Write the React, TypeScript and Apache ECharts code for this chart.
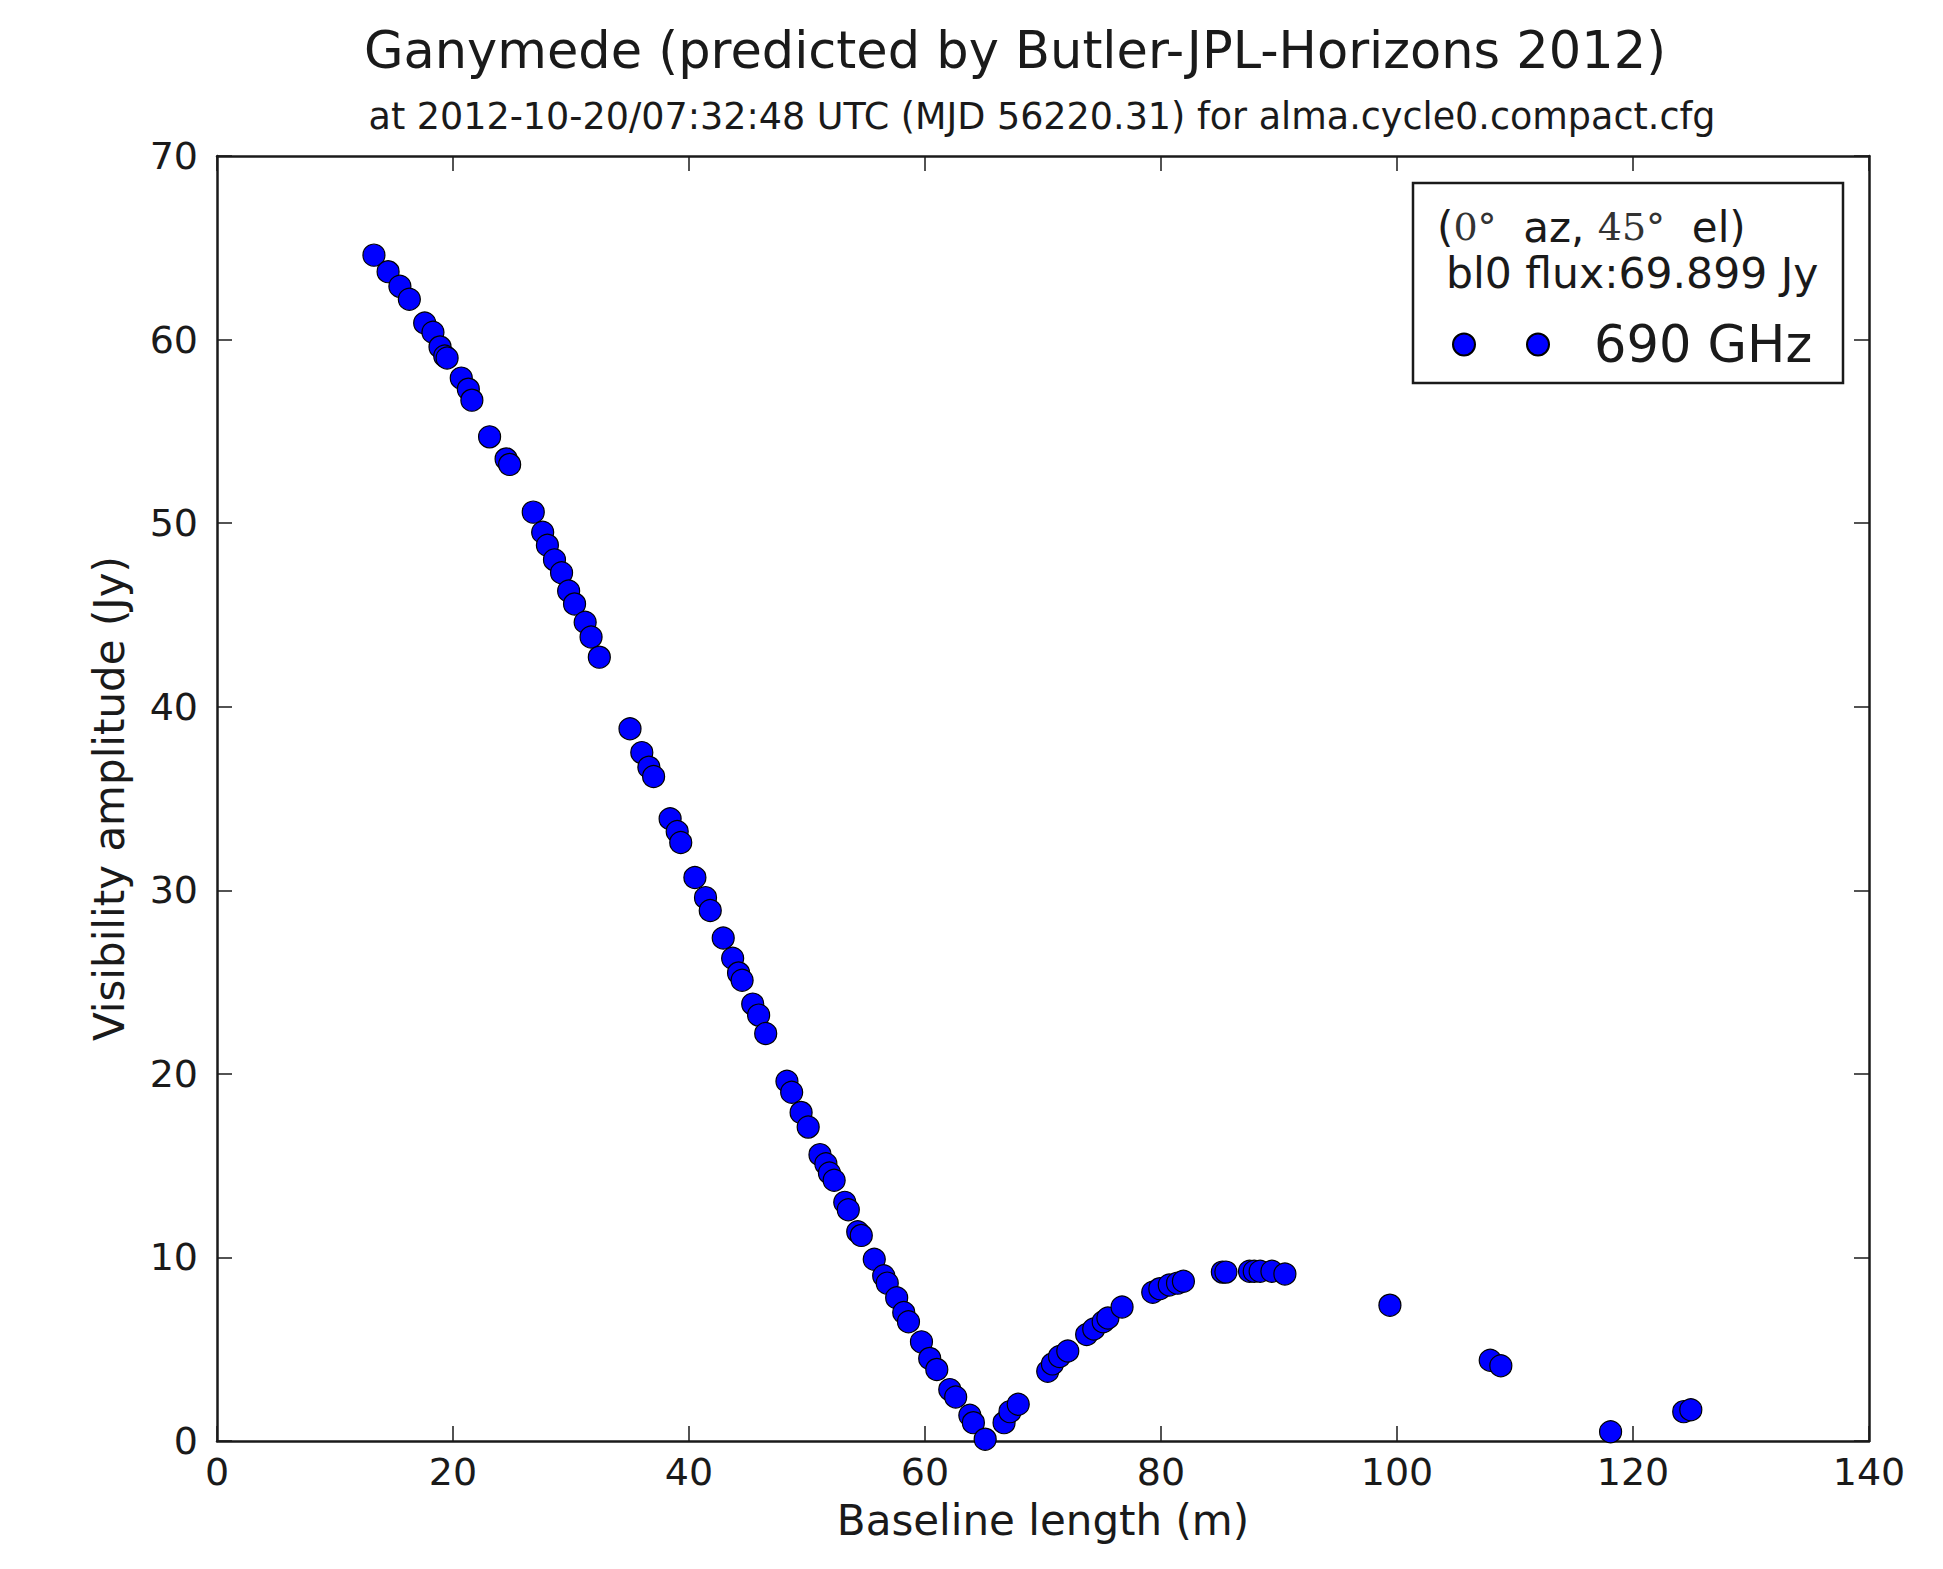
import React, { useEffect, useRef } from "react";
import * as echarts from "echarts";

const titleText = "Ganymede (predicted by Butler-JPL-Horizons 2012)";
const subtitleText = "at 2012-10-20/07:32:48 UTC (MJD 56220.31) for alma.cycle0.compact.cfg";
const xAxisName = "Baseline length (m)";
const yAxisName = "Visibility amplitude (Jy)";
const seriesName = "690 GHz";
const legendLine2 = "bl0 flux:69.899 Jy";

const baselineM = [
  13.3, 14.5, 15.5, 16.3, 17.6, 18.3, 18.9, 19.3, 19.5, 20.7,
  21.3, 21.6, 23.1, 24.5, 24.8, 26.8, 27.6, 28.0, 28.6, 29.2,
  29.8, 30.3, 31.2, 31.7, 32.4, 35.0, 36.0, 36.6, 37.0, 38.4,
  39.0, 39.3, 40.5, 41.4, 41.8, 42.9, 43.7, 44.2, 44.5, 45.4,
  45.9, 46.5, 48.3, 48.7, 49.5, 50.1, 51.1, 51.6, 51.9, 52.3,
  53.2, 53.5, 54.3, 54.6, 55.7, 56.5, 56.8, 57.6, 58.2, 58.6,
  59.7, 60.4, 61.0, 62.1, 62.6, 63.8, 64.1, 65.1, 66.7, 67.2,
  67.9, 70.4, 70.8, 71.4, 72.1, 73.7, 74.3, 75.1, 75.5, 76.7,
  79.3, 79.9, 80.7, 81.4, 81.9, 85.2, 85.5, 87.5, 87.9, 88.4,
  89.4, 90.5, 99.4, 107.9, 108.8, 118.1, 124.3, 124.9,
];

const amplitudeJy = [
  64.6, 63.7, 62.9, 62.2, 60.9, 60.4, 59.6, 59.1, 59.0, 57.9,
  57.3, 56.7, 54.7, 53.5, 53.2, 50.6, 49.5, 48.8, 48.0, 47.3,
  46.3, 45.6, 44.6, 43.8, 42.7, 38.8, 37.5, 36.7, 36.2, 33.9,
  33.2, 32.6, 30.7, 29.6, 28.9, 27.4, 26.3, 25.5, 25.1, 23.8,
  23.2, 22.2, 19.6, 19.0, 17.9, 17.1, 15.6, 15.1, 14.6, 14.2,
  13.0, 12.6, 11.4, 11.2, 9.9, 9.0, 8.6, 7.8, 7.0, 6.5,
  5.4, 4.5, 3.9, 2.8, 2.4, 1.4, 1.0, 0.1, 1.0, 1.6,
  2.0, 3.8, 4.2, 4.6, 4.9, 5.8, 6.1, 6.5, 6.7, 7.3,
  8.1, 8.3, 8.5, 8.6, 8.7, 9.2, 9.2, 9.25, 9.25, 9.25,
  9.25, 9.1, 7.4, 4.4, 4.1, 0.5, 1.6, 1.7,
];

const xMin = 0, xMax = 140, xStep = 20;
const yMin = 0, yMax = 70, yStep = 10;

const FONT = "DejaVu Sans";

export default function App() {
  const ref = useRef<HTMLDivElement>(null);

  useEffect(() => {
    if (!ref.current) return;
    const chart = echarts.init(ref.current, undefined, { renderer: "svg" });
    const points = baselineM.map((x, i) => [x, amplitudeJy[i]]);

    const frameLine = { show: true, onZero: false, lineStyle: { color: "#1a1a1a", width: 2.5 } };
    const innerTick = { show: true, inside: true, length: 15, lineStyle: { color: "#1a1a1a", width: 1.5 } };

    chart.setOption({
      animation: false,
      backgroundColor: "#fff",
      textStyle: { fontFamily: FONT },
      grid: { left: 217, top: 156, width: 1652, height: 1285, containLabel: false },
      xAxis: [
        {
          type: "value", min: xMin, max: xMax, interval: xStep, position: "bottom",
          axisLine: frameLine, axisTick: innerTick, splitLine: { show: false },
          axisLabel: { color: "#1a1a1a", fontSize: 38, fontFamily: FONT, margin: 12 },
          name: xAxisName, nameLocation: "middle", nameGap: 58,
          nameTextStyle: { color: "#1a1a1a", fontSize: 42, fontFamily: FONT },
        },
        {
          type: "value", min: xMin, max: xMax, interval: xStep, position: "top",
          axisLine: frameLine, axisTick: innerTick, splitLine: { show: false },
          axisLabel: { show: false },
        },
      ],
      yAxis: [
        {
          type: "value", min: yMin, max: yMax, interval: yStep, position: "left",
          axisLine: frameLine, axisTick: innerTick, splitLine: { show: false },
          axisLabel: { color: "#1a1a1a", fontSize: 38, fontFamily: FONT, margin: 19 },
          name: yAxisName, nameLocation: "middle", nameGap: 87, nameRotate: 90,
          nameTextStyle: { color: "#1a1a1a", fontSize: 42, fontFamily: FONT },
        },
        {
          type: "value", min: yMin, max: yMax, interval: yStep, position: "right",
          axisLine: frameLine, axisTick: innerTick, splitLine: { show: false },
          axisLabel: { show: false },
        },
      ],
      legend: {
        show: true,
        left: 1452,
        top: 319,
        padding: 0,
        itemGap: 0,
        data: [seriesName],
        icon: "path://M0,11a11,11 0 1,0 22,0a11,11 0 1,0 -22,0ZM74,11a11,11 0 1,0 22,0a11,11 0 1,0 -22,0Z",
        itemWidth: 96,
        itemHeight: 22,
        textStyle: { color: "#1a1a1a", fontSize: 51, fontFamily: FONT, padding: [0, 0, 0, 40] },
        z: 10,
      },
      graphic: [
        {
          type: "text", x: 1015, y: 50, z: 10,
          style: { text: titleText, fill: "#1a1a1a", font: `51px '${FONT}'`, textAlign: "center", textVerticalAlign: "middle" },
        },
        {
          type: "text", x: 1042, y: 116, z: 10,
          style: { text: subtitleText, fill: "#1a1a1a", font: `36.5px '${FONT}'`, textAlign: "center", textVerticalAlign: "middle" },
        },
        {
          type: "rect", z: 5,
          shape: { x: 1413, y: 183, width: 430, height: 200 },
          style: { fill: "#fff", stroke: "#1a1a1a", lineWidth: 2.5 },
        },
        {
          type: "text", x: 1437, y: 227, z: 10,
          style: {
            text: "{s|(}{m|0°}{s|  az, }{m|45°}{s|  el)}",
            textVerticalAlign: "middle",
            rich: {
              s: { fontFamily: FONT, fontSize: 42, fill: "#1a1a1a" },
              m: { fontFamily: "DejaVu Serif", fontSize: 38, fill: "#333" },
            },
          },
        },
        {
          type: "text", x: 1446, y: 273, z: 10,
          style: { text: legendLine2, fill: "#1a1a1a", font: `42.5px '${FONT}'`, textVerticalAlign: "middle" },
        },
      ],
      series: [
        {
          name: seriesName,
          type: "scatter",
          xAxisIndex: 0,
          yAxisIndex: 0,
          data: points,
          symbol: "circle",
          symbolSize: 22,
          itemStyle: { color: "#0000ff", borderColor: "#000", borderWidth: 1.2, opacity: 1 },
          z: 3,
        },
      ],
    });

    return () => chart.dispose();
  }, []);

  return (
    <div
      ref={ref}
      style={{ position: "absolute", left: 0, top: 0, width: 1943, height: 1569, background: "#fff" }}
    />
  );
}
